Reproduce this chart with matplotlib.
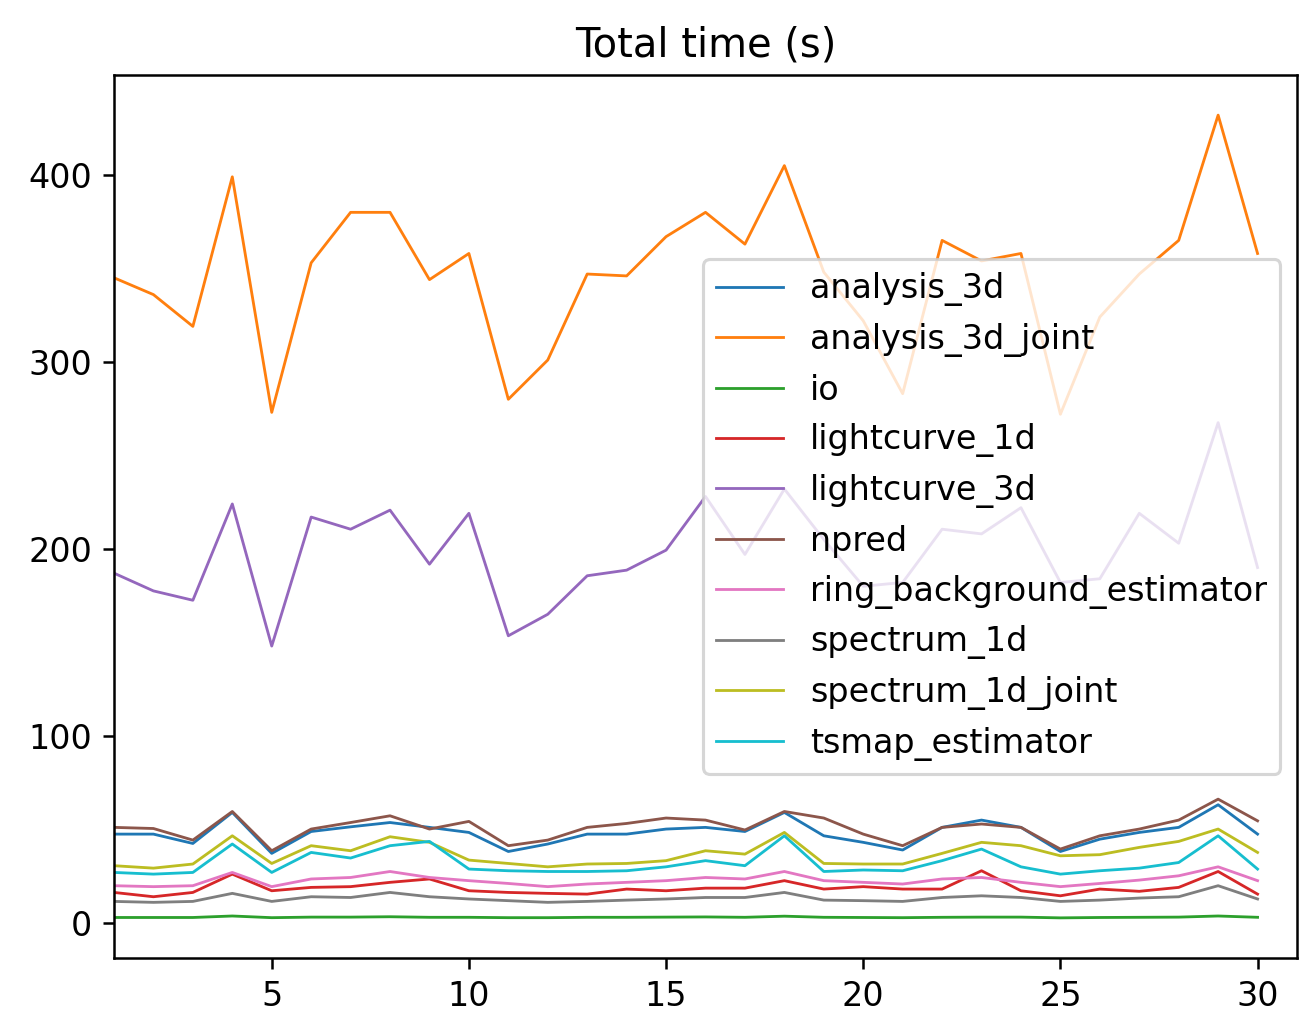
import numpy as np
import matplotlib
matplotlib.use("Agg")
import matplotlib.pyplot as plt

runs = list(range(1, 31))

analysis_3d = [47.4, 47.4, 42.4, 59.0, 37.1, 48.8, 51.3, 53.6, 51.0, 48.3,
               38.1, 42.1, 47.4, 47.4, 50.1, 51.0, 48.8, 59.0, 46.5, 43.0,
               38.9, 51.0, 54.9, 51.0, 38.1, 44.7, 48.3, 51.0, 63.1, 47.4]
analysis_3d_joint = [345, 336, 319, 399, 273, 353, 380, 380, 344, 358,
                     280, 301, 347, 346, 367, 380, 363, 405, 348, 322,
                     283, 365, 354, 358, 272, 324, 347, 365, 432, 358]
io = [2.8, 2.8, 2.8, 3.6, 2.7, 3.0, 3.0, 3.2, 2.9, 2.9,
      2.7, 2.7, 2.9, 2.9, 3.0, 3.1, 2.9, 3.5, 2.9, 2.8,
      2.7, 2.9, 3.0, 3.0, 2.6, 2.8, 2.9, 3.0, 3.6, 2.9]
lightcurve_1d = [16.2, 13.9, 16.2, 26.0, 17.1, 18.9, 19.3, 21.6, 23.4, 17.1,
                 16.2, 15.7, 15.3, 18.0, 17.1, 18.5, 18.5, 22.5, 18.0, 19.3,
                 18.0, 18.0, 27.8, 17.1, 14.4, 18.0, 16.8, 18.9, 27.4, 15.3]
lightcurve_3d = [187, 177.5, 172.5, 224, 148, 217, 210.5, 220.7, 191.8, 219,
                 153.5, 165, 185.6, 188.6, 199.3, 228, 197, 232, 205, 180,
                 182, 210.5, 208, 222, 182, 184, 219, 203, 267.5, 190]
npred = [51.0, 50.4, 44.2, 59.5, 38.5, 50.1, 53.6, 57.2, 50.1, 54.2,
         41.2, 44.2, 51.0, 53.1, 56.0, 54.9, 49.6, 59.5, 56.0, 47.4,
         41.2, 51.0, 52.8, 51.0, 39.4, 46.5, 50.1, 54.9, 66.1, 54.5]
ring_background_estimator = [19.8, 19.3, 19.8, 26.9, 19.3, 23.4, 24.2, 27.4, 24.2, 22.5,
                             21.0, 19.3, 20.7, 21.6, 22.5, 24.2, 23.4, 27.4, 22.5, 21.6,
                             20.7, 23.4, 24.2, 21.6, 19.3, 21.0, 22.8, 25.1, 29.9, 22.5]
spectrum_1d = [11.4, 10.9, 11.4, 15.7, 11.4, 13.9, 13.5, 16.2, 13.9, 12.7,
               11.8, 10.9, 11.4, 12.1, 12.7, 13.5, 13.5, 16.2, 12.1, 11.8,
               11.4, 13.5, 14.4, 13.5, 11.4, 12.1, 13.2, 13.9, 19.8, 12.7]
spectrum_1d_joint = [30.5, 29.2, 31.4, 46.5, 31.7, 41.2, 38.5, 46.0, 43.0, 33.5,
                     31.7, 29.9, 31.4, 31.7, 33.2, 38.5, 36.7, 48.3, 31.7, 31.4,
                     31.4, 37.1, 43.0, 41.2, 35.8, 36.4, 40.3, 43.5, 50.1, 37.6]
tsmap_estimator = [26.9, 26.0, 26.9, 42.1, 26.9, 37.6, 34.6, 41.2, 43.5, 28.7,
                   27.8, 27.4, 27.4, 27.8, 29.9, 33.2, 30.5, 46.5, 27.4, 28.2,
                   27.8, 33.2, 39.4, 29.9, 26.0, 27.8, 29.2, 32.2, 46.5, 28.7]

series = {
    "analysis_3d": analysis_3d,
    "analysis_3d_joint": analysis_3d_joint,
    "io": io,
    "lightcurve_1d": lightcurve_1d,
    "lightcurve_3d": lightcurve_3d,
    "npred": npred,
    "ring_background_estimator": ring_background_estimator,
    "spectrum_1d": spectrum_1d,
    "spectrum_1d_joint": spectrum_1d_joint,
    "tsmap_estimator": tsmap_estimator,
}

plt.rcParams["font.size"] = 10.7

DPI = 225
fig = plt.figure(figsize=(1301 / DPI, 1013 / DPI), dpi=DPI)
ax = fig.add_axes([114 / 1301, 1 - 958 / 1013, (1297 - 114) / 1301, (958 - 75) / 1013])

for name, values in series.items():
    ax.plot(runs, values, label=name, linewidth=0.9)

ax.set_xlim(1, 31)
ax.set_title("Total time (s)", fontsize=12.8)
ax.legend(loc="center right", fontsize=10.7, labelspacing=0.5, handlelength=2.0,
          borderaxespad=0.5)

fig.savefig("out.png", dpi=DPI)
